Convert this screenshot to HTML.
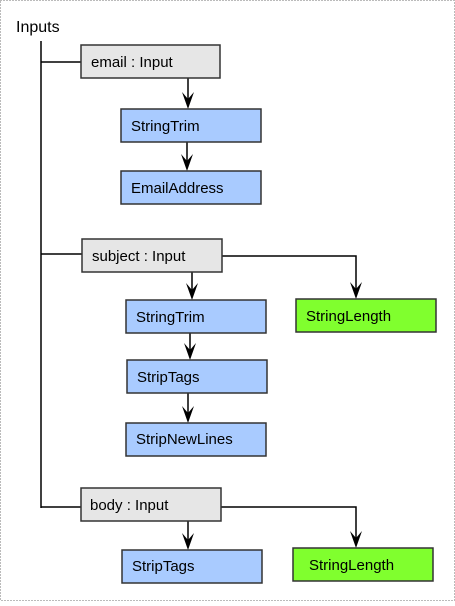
<!DOCTYPE html>
<html><head><style>
body{margin:0;background:#fff;}
svg text{font-family:"Liberation Sans",sans-serif;font-size:15px;fill:#000;}
</style></head><body>
<svg width="455" height="601" xmlns="http://www.w3.org/2000/svg">
<rect x="0.5" y="0.5" width="454" height="600" fill="none" stroke="#777" stroke-dasharray="1,2"/>
<text x="16" y="32" style="font-size:16px">Inputs</text>
<g stroke="#000" stroke-width="1.5" fill="none">
<path d="M41 41 V508"/>
<path d="M41 62 H81"/><path d="M41 254 H82"/><path d="M41 507 H81"/>
<path d="M188 78 V100"/>
<path d="M187 142 V163"/>
<path d="M192 272 V291"/>
<path d="M190 333 V351"/>
<path d="M188 393 V414"/>
<path d="M188 521 V541"/>
<path d="M222 256 H356 V290"/>
<path d="M221 507 H356 V539"/>
</g>
<g fill="#000">
<path d="M182 92 L188 109 L194 92 L188 99 Z"/>
<path d="M181 154 L187 171 L193 154 L187 161 Z"/>
<path d="M186 283 L192 300 L198 283 L192 290 Z"/>
<path d="M184 343 L190 360 L196 343 L190 350 Z"/>
<path d="M182 406 L188 423 L194 406 L188 413 Z"/>
<path d="M182 533 L188 550 L194 533 L188 540 Z"/>
<path d="M350 282 L356 299 L362 282 L356 289 Z"/>
<path d="M350 531 L356 548 L362 531 L356 538 Z"/>
</g>
<g stroke="#333" stroke-width="1.5">
<rect x="81" y="45" width="139" height="33" fill="#e6e6e6"/>
<rect x="121" y="109" width="140" height="33" fill="#a9cbff"/>
<rect x="121" y="171" width="140" height="33" fill="#a9cbff"/>
<rect x="82" y="239" width="140" height="33" fill="#e6e6e6"/>
<rect x="126" y="300" width="140" height="33" fill="#a9cbff"/>
<rect x="127" y="360" width="140" height="33" fill="#a9cbff"/>
<rect x="126" y="423" width="140" height="33" fill="#a9cbff"/>
<rect x="296" y="299" width="140" height="33" fill="#80ff2e"/>
<rect x="81" y="488" width="140" height="33" fill="#e6e6e6"/>
<rect x="122" y="550" width="140" height="33" fill="#a9cbff"/>
<rect x="293" y="548" width="140" height="33" fill="#80ff2e"/>
</g>
<text x="91" y="67">email : Input</text>
<text x="131" y="131">StringTrim</text>
<text x="131" y="193">EmailAddress</text>
<text x="92" y="261">subject : Input</text>
<text x="136" y="322">StringTrim</text>
<text x="137" y="382">StripTags</text>
<text x="136" y="444">StripNewLines</text>
<text x="306" y="321">StringLength</text>
<text x="90" y="510">body : Input</text>
<text x="132" y="571">StripTags</text>
<text x="309" y="570">StringLength</text>
</svg>
</body></html>
